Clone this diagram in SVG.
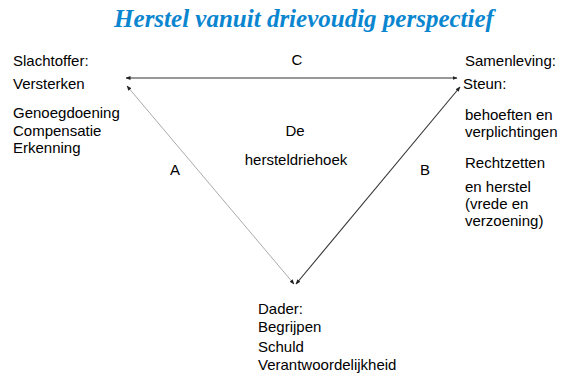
<svg xmlns="http://www.w3.org/2000/svg" width="563" height="378" viewBox="0 0 563 378">
<defs>
<style>
.t{font-family:"Liberation Sans",Arial,sans-serif;font-size:15px;fill:#000}
.title{font-family:"Liberation Serif","Times New Roman",serif;font-size:25px;font-weight:bold;font-style:italic;fill:#0a86d0}
.dark{stroke:#333;stroke-width:1.1;fill:none}
.light{stroke:#aaa;stroke-width:1;fill:none}
</style>
<marker id="ad" viewBox="0 0 10 10" refX="9" refY="5" markerWidth="5" markerHeight="5" orient="auto-start-reverse" markerUnits="userSpaceOnUse"><path d="M0,1 L10,5 L0,9 z" fill="#222"/></marker>
</defs>
<rect width="563" height="378" fill="#fff"/>
<text class="title" x="304" y="27" text-anchor="middle">Herstel vanuit drievoudig perspectief</text>
<g id="connectors">
<line class="dark" x1="126" y1="78" x2="457" y2="78" marker-start="url(#ad)" marker-end="url(#ad)"/>
<line class="light" x1="127" y1="86" x2="294" y2="284" marker-start="url(#ad)" marker-end="url(#ad)"/>
<line class="dark" x1="296" y1="284" x2="460" y2="87" marker-start="url(#ad)" marker-end="url(#ad)"/>
</g>
<g id="labels">
<text class="t" x="297" y="65" text-anchor="middle">C</text>
<text class="t" x="175" y="175" text-anchor="middle">A</text>
<text class="t" x="425" y="175" text-anchor="middle">B</text>
</g>
<g id="center">
<text class="t" x="295" y="136" text-anchor="middle">De</text>
<text class="t" x="296" y="165" text-anchor="middle">hersteldriehoek</text>
</g>
<g id="slachtoffer">
<text class="t" x="13" y="66">Slachtoffer:</text>
<text class="t" x="13" y="89">Versterken</text>
<text class="t" x="13" y="118">Genoegdoening</text>
<text class="t" x="13" y="136">Compensatie</text>
<text class="t" x="13" y="153">Erkenning</text>
</g>
<g id="samenleving">
<text class="t" x="465" y="66">Samenleving:</text>
<text class="t" x="463" y="89">Steun:</text>
<text class="t" x="465" y="120">behoeften en</text>
<text class="t" x="465" y="137">verplichtingen</text>
<text class="t" x="465" y="168">Rechtzetten</text>
<text class="t" x="465" y="192">en herstel</text>
<text class="t" x="465" y="209">(vrede en</text>
<text class="t" x="465" y="226">verzoening)</text>
</g>
<g id="dader">
<text class="t" x="258" y="314">Dader:</text>
<text class="t" x="258" y="332">Begrijpen</text>
<text class="t" x="258" y="352">Schuld</text>
<text class="t" x="258" y="370">Verantwoordelijkheid</text>
</g>
</svg>
